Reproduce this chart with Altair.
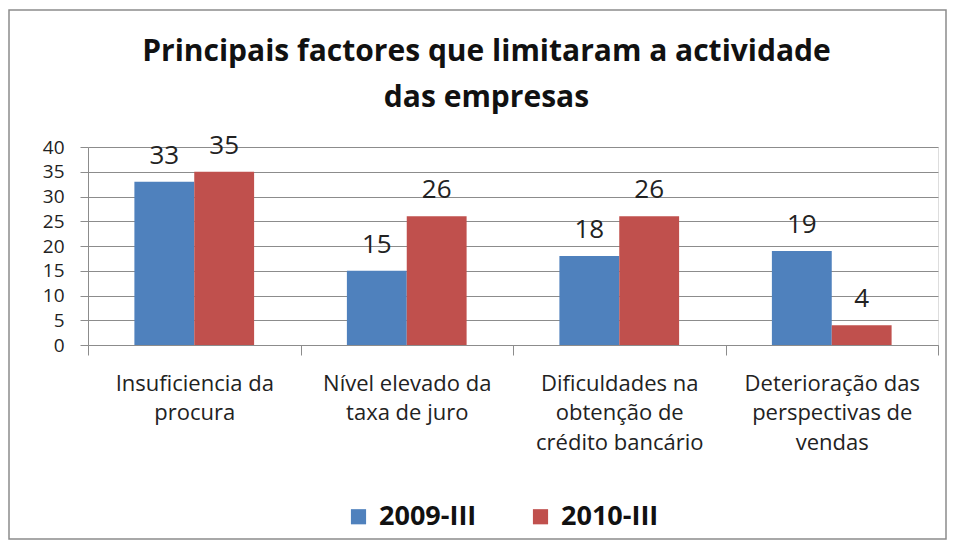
import altair as alt
import pandas as pd

categories = [
    "Insuficiencia da procura",
    "Nível elevado da taxa de juro",
    "Dificuldades na obtenção de crédito bancário",
    "Deterioração das perspectivas de vendas",
]
category_lines = [
    ["Insuficiencia da", "procura"],
    ["Nível elevado da", "taxa de juro"],
    ["Dificuldades na", "obtenção de", "crédito bancário"],
    ["Deterioração das", "perspectivas de", "vendas"],
]
series = ["2009-III", "2010-III"]
values_2009 = [33, 15, 18, 19]
values_2010 = [35, 26, 26, 4]
y_ticks = [0, 5, 10, 15, 20, 25, 30, 35, 40]
colors = ["#4F81BD", "#C0504D"]
title_lines = ["Principais factores que limitaram a actividade", "das empresas"]

rows = []
for c, a, b in zip(categories, values_2009, values_2010):
    rows.append({"factor": c, "series": series[0], "value": a})
    rows.append({"factor": c, "series": series[1], "value": b})
df = pd.DataFrame(rows)

FONT = "Open Sans"

expr = "''"
for cat, lines in reversed(list(zip(categories, category_lines))):
    arr = "[" + ",".join("'" + l + "'" for l in lines) + "]"
    expr = f"datum.value == '{cat}' ? {arr} : ({expr})"

x_enc = alt.X(
    "factor:N",
    sort=categories,
    scale=alt.Scale(paddingInner=0, paddingOuter=0),
    axis=alt.Axis(
        title=None,
        labelAngle=0,
        tickBand="extent",
        labelExpr=expr,
        labelFont=FONT,
        labelFontSize=22,
        labelColor="#222222",
        labelLineHeight=29.5,
        labelPadding=18,
        labelBaseline="top",
        tickSize=10,
        tickColor="#8c8c8c",
        domainColor="#8c8c8c",
        grid=False,
    ),
)
xoff = alt.XOffset(
    "series:N",
    sort=series,
    scale=alt.Scale(paddingOuter=0.775, paddingInner=0),
)
y_enc = alt.Y(
    "value:Q",
    scale=alt.Scale(domain=[0, 40], nice=False),
    axis=alt.Axis(
        title=None,
        values=y_ticks,
        labelOverlap=False,
        labelFont=FONT,
        labelFontSize=19,
        labelColor="#222222",
        labelPadding=16,
        tickSize=8,
        tickColor="#8c8c8c",
        domainColor="#8c8c8c",
        gridColor="#8c8c8c",
        gridWidth=1,
    ),
)

bars = alt.Chart(df).mark_bar().encode(
    x=x_enc,
    xOffset=xoff,
    y=y_enc,
    color=alt.Color(
        "series:N",
        sort=series,
        scale=alt.Scale(domain=series, range=colors),
        legend=alt.Legend(
            orient="none",
            legendX=257,
            legendY=356,
            direction="horizontal",
            title=None,
            symbolType="square",
            symbolSize=230,
            symbolStrokeWidth=0,
            labelFont=FONT,
            labelFontSize=27,
            labelFontWeight="bold",
            labelColor="#111111",
            columnPadding=50,
            labelOffset=7,
        ),
    ),
)

labels = alt.Chart(df).mark_text(
    font=FONT, fontSize=26, color="#222222", baseline="alphabetic", dy=-18
).encode(
    x=x_enc,
    xOffset=xoff,
    y=y_enc,
    text="value:Q",
)

frame = alt.Chart(pd.DataFrame({"a": [0]})).mark_rect(
    fill=None, stroke="#8c8c8c", strokeWidth=1.5, clip=False
).encode(
    x=alt.value(-79),
    x2=alt.value(858),
    y=alt.value(-137),
    y2=alt.value(392),
)

chart = alt.layer(frame, bars, labels).properties(
    width=850,
    height=198,
    autosize=alt.AutoSizeParams(type="none"),
    padding={"left": 80, "top": 139, "right": 9, "bottom": 197},
    title=alt.Title(
        title_lines,
        font=FONT,
        fontSize=30,
        fontWeight="bold",
        color="#111111",
        lineHeight=46,
        anchor="middle",
        frame="bounds",
        dx=9,
        offset=-104,
    ),
).configure_view(stroke=None).configure(background="white")

chart.save("out.html", embed_options={"renderer": "svg", "actions": False})
